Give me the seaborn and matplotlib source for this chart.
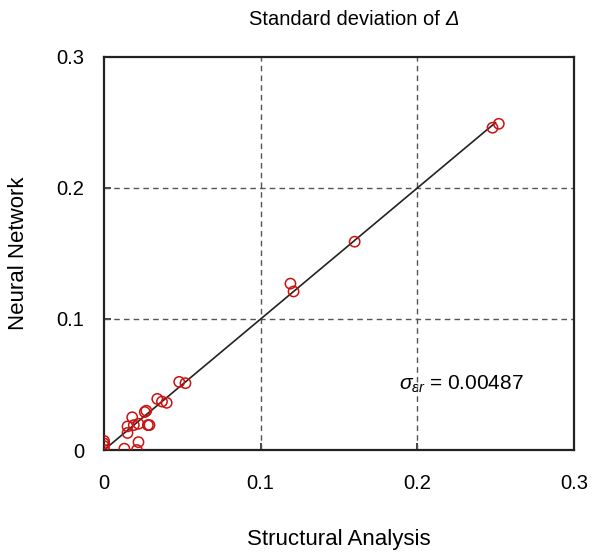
import matplotlib
matplotlib.use("Agg")
import matplotlib.pyplot as plt
import seaborn as sns
import pandas as pd

structural = [0.248, 0.252, 0.160, 0.119, 0.121, 0.048, 0.052, 0.034, 0.037, 0.040,
              0.027, 0.029, 0.018, 0.026, 0.015, 0.019, 0.022, 0.028, 0.015, 0.022,
              0.013, 0.021, 0.0, 0.0, 0.0, 0.0]
network = [0.246, 0.249, 0.159, 0.127, 0.121, 0.052, 0.051, 0.039, 0.037, 0.036,
           0.030, 0.019, 0.025, 0.029, 0.018, 0.019, 0.020, 0.019, 0.013, 0.006,
           0.001, 0.0, 0.005, 0.0, 0.003, 0.007]
line_x = [0.0, 0.25]
line_y = [0.0, 0.25]
ticks = [0, 0.1, 0.2, 0.3]
tick_labels = ["0", "0.1", "0.2", "0.3"]
sigma_text = r"$\sigma_{\varepsilon r}$ = 0.00487"

sns.set_theme(style="white")
plt.rcParams['font.family'] = ['Liberation Sans', 'DejaVu Sans']
plt.rcParams['mathtext.fontset'] = 'custom'
plt.rcParams['mathtext.rm'] = 'Liberation Sans'
plt.rcParams['mathtext.it'] = 'Liberation Sans:italic'
plt.rcParams['text.color'] = 'black'
plt.rcParams['axes.labelcolor'] = 'black'

df = pd.DataFrame({"Structural Analysis": structural, "Neural Network": network})

fig = plt.figure(figsize=(5.92, 5.57), dpi=100)
ax = fig.add_axes([0.1757, 0.1921, 0.7939, 0.7056])

ax.plot(line_x, line_y, color="#222222", lw=1.2, zorder=2)
sns.scatterplot(data=df, x="Structural Analysis", y="Neural Network", ax=ax,
                marker="o", s=55, facecolors="none", edgecolor="#cc1111",
                linewidth=1.1, zorder=3)

ax.set_xlim(0, 0.3)
ax.set_ylim(0, 0.3)
ax.set_xticks(ticks)
ax.set_xticklabels(tick_labels)
ax.set_yticks(ticks)
ax.set_yticklabels(tick_labels)
ax.tick_params(direction="in", length=5, width=1.2, colors="#222222",
               labelsize=14.5, labelcolor="black", bottom=True, left=True)
ax.tick_params(axis="x", pad=17)
ax.tick_params(axis="y", pad=14)
for v in [0.1, 0.2]:
    ax.axvline(v, color="#555555", ls=(0, (4, 3)), lw=1.0, zorder=1)
    ax.axhline(v, color="#555555", ls=(0, (4, 3)), lw=1.0, zorder=1)
for sp in ax.spines.values():
    sp.set_visible(True)
    sp.set_color("#222222")
    sp.set_linewidth(1.6)

ax.set_xlabel("Structural Analysis", fontsize=16, labelpad=26)
ax.set_ylabel("Neural Network", fontsize=16, labelpad=20)
title = fig.text(0.5865, 0.965, "Standard deviation of ", fontsize=14.5,
                 ha="center", va="center")
ax.annotate("Δ", xy=(1.0, 0.0), xycoords=title, fontsize=14.5,
            fontstyle="italic", ha="left", va="bottom")
ax.text(0.188, 0.046, sigma_text, fontsize=15)

fig.savefig("out.png", dpi=100)
